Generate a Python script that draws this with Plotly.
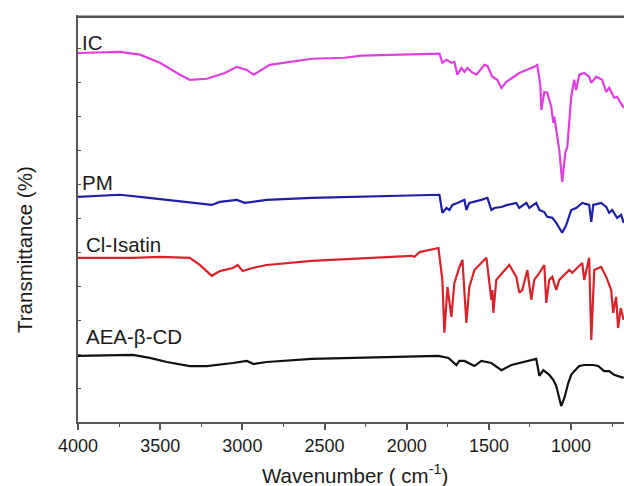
import plotly.graph_objects as go

# ---- Data (arbitrary offset transmittance units) ----
ic_wn = [4000, 3745, 3623, 3502, 3380, 3320, 3216, 3107, 3034, 2973, 2931, 2882, 2834, 2578, 2378, 2275,
         1922, 1801, 1783, 1758, 1728, 1710, 1692, 1667, 1649, 1631, 1606, 1576, 1527, 1509, 1479, 1449,
         1424, 1394, 1357, 1315, 1272, 1224, 1206, 1187, 1181, 1163, 1145, 1120, 1108, 1102, 1090, 1072,
         1054, 1035, 1023, 999, 981, 969, 950, 920, 890, 877, 847, 811, 786, 768, 738, 720, 680]
ic_t = [108.8, 109.1, 108.3, 105.9, 102.4, 100.9, 101.2, 102.9, 104.7, 103.8, 102.4, 103.8, 105.3, 107.1, 107.4, 108.0,
        108.6, 108.6, 105.9, 106.8, 105.9, 106.2, 102.4, 104.4, 103.2, 104.4, 103.2, 102.4, 105.3, 105.0, 101.8, 100.9,
        98.5, 100.3, 101.5, 102.9, 103.8, 104.7, 105.3, 99.4, 92.0, 97.3, 97.1, 92.9, 88.2, 90.0, 86.1, 80.2,
        70.8, 79.4, 81.1, 95.9, 100.9, 97.9, 102.4, 102.9, 101.8, 100.0, 101.8, 100.9, 97.3, 98.5, 95.6, 95.9, 92.6]

pm_wn = [4000, 3745, 3623, 3459, 3301, 3186, 3137, 3034, 2985, 2937, 2852, 2578, 1922, 1801, 1783, 1758,
         1740, 1722, 1692, 1649, 1637, 1619, 1546, 1509, 1485, 1467, 1424, 1388, 1333, 1315, 1272, 1254,
         1212, 1193, 1163, 1145, 1114, 1090, 1054, 1029, 999, 969, 932, 890, 877, 865, 817, 786, 768,
         750, 720, 695, 680]
pm_t = [66.4, 67.0, 66.4, 65.5, 64.6, 64.0, 64.9, 65.5, 64.6, 64.9, 65.5, 66.1, 67.0, 67.0, 61.7, 63.1,
        62.5, 64.0, 64.6, 65.5, 62.5, 64.6, 65.5, 66.1, 62.5, 63.1, 63.4, 64.0, 64.6, 63.1, 64.6, 63.1,
        64.6, 62.5, 61.9, 60.5, 60.2, 58.7, 55.8, 58.1, 62.5, 63.1, 64.6, 64.0, 59.0, 64.0, 64.6, 63.4, 61.7,
        62.5, 60.2, 61.1, 58.7]

cl_wn = [4000, 3666, 3502, 3320, 3259, 3186, 3137, 3058, 3028, 2998, 2937, 2852, 2578, 1971, 1953, 1922,
         1807, 1783, 1771, 1752, 1728, 1710, 1679, 1661, 1637, 1619, 1588, 1515, 1497, 1485, 1479, 1473,
         1455, 1376, 1333, 1315, 1297, 1266, 1242, 1224, 1193, 1163, 1151, 1133, 1114, 1090, 1072, 1011,
         993, 932, 920, 890, 877, 859, 817, 786, 756, 744, 726, 714, 698, 680]
cl_t = [48.4, 48.4, 48.7, 48.4, 46.3, 43.1, 44.5, 45.4, 46.3, 44.5, 45.4, 46.3, 47.5, 49.0, 48.7, 50.1,
        51.3, 41.9, 26.3, 39.8, 31.0, 41.0, 45.7, 47.8, 29.2, 39.8, 44.8, 48.4, 41.0, 36.0, 38.9, 32.2,
        41.9, 46.3, 42.8, 38.1, 38.9, 44.8, 36.0, 41.9, 44.0, 46.3, 35.1, 41.9, 42.8, 38.9, 41.9, 44.8,
        44.0, 46.9, 41.9, 48.4, 24.2, 44.8, 45.7, 42.8, 38.9, 32.2, 36.9, 27.7, 33.6, 30.1]

aea_wn = [4000, 3666, 3563, 3459, 3320, 3216, 3058, 2973, 2931, 2852, 2578, 1807, 1746, 1698, 1679, 1649,
          1588, 1546, 1485, 1424, 1363, 1284, 1212, 1193, 1169, 1133, 1108, 1090, 1060, 1041, 1017, 999,
          981, 950, 920, 865, 835, 799, 768, 738, 680]
aea_t = [19.5, 19.8, 18.9, 17.7, 16.5, 16.5, 17.4, 18.0, 17.1, 17.7, 18.6, 19.5, 18.9, 16.8, 18.0, 18.0,
         16.5, 18.0, 17.4, 15.3, 16.8, 17.7, 18.6, 13.6, 15.3, 13.9, 12.4, 10.6, 4.7, 7.1, 11.5, 13.9,
         15.0, 16.5, 16.8, 16.8, 16.5, 15.0, 15.0, 13.9, 13.0]

labels = ["IC", "PM", "Cl-Isatin", "AEA-β-CD"]
label_y = [112.0, 70.5, 52.2, 25.1]
label_x = [3985, 3985, 3962, 3962]
colors = ["#de3fde", "#1f1fa6", "#d8232b", "#111111"]

x_tickvals = [4000, 3500, 3000, 2500, 2000, 1500, 1000]
x_ticktext = ["4000", "3500", "3000", "2500", "2000", "1500", "1000"]

FONT = "Liberation Sans, Arial, sans-serif"

fig = go.Figure()
series = [(ic_wn, ic_t), (pm_wn, pm_t), (cl_wn, cl_t), (aea_wn, aea_t)]
for (wn, t), name, c in zip(series, labels, colors):
    fig.add_trace(go.Scatter(x=wn, y=t, mode="lines", name=name,
                             line=dict(color=c, width=2.2), showlegend=False))

for name, lx, ly in zip(labels, label_x, label_y):
    fig.add_annotation(x=lx, y=ly, xref="x", yref="y", text=name, showarrow=False,
                       xanchor="left", yanchor="middle",
                       font=dict(family=FONT, size=20.5, color="#1a1a1a"))

fig.add_annotation(x=-0.099, y=0.425, xref="paper", yref="paper", text="Transmittance (%)",
                   textangle=-90, showarrow=False, xanchor="center", yanchor="middle",
                   font=dict(family=FONT, size=20.5, color="#1a1a1a"))
fig.add_annotation(x=0.507, y=-0.128, xref="paper", yref="paper",
                   text="Wavenumber ( cm<sup>-1</sup>)", showarrow=False,
                   xanchor="center", yanchor="middle",
                   font=dict(family=FONT, size=20.5, color="#1a1a1a"))

# top frame line (explicit)
fig.add_shape(type="line", xref="paper", yref="paper", x0=-0.002, x1=1.0, y0=0.996, y1=0.996,
              layer="above", line=dict(color="#505050", width=2.5))

fig.update_layout(
    width=624, height=486,
    margin=dict(l=78, r=0, t=15, b=64),
    paper_bgcolor="white", plot_bgcolor="white",
    xaxis=dict(range=[4000, 678], tickvals=x_tickvals, ticktext=x_ticktext,
               showgrid=False, zeroline=False, showline=True, linecolor="#555555", linewidth=2,
               mirror=False, ticks="outside", ticklen=6, tickwidth=1.5, tickcolor="#555555",
               minor=dict(dtick=250, ticks="outside", ticklen=3, tickwidth=1.2, tickcolor="#555555"),
               tickfont=dict(family=FONT, size=18, color="#1a1a1a")),
    yaxis=dict(range=[0, 120], dtick=10, showticklabels=False,
               showgrid=False, zeroline=False, showline=True, linecolor="#555555", linewidth=2,
               ticks="inside", ticklen=3, tickwidth=1.2, tickcolor="#555555"),
)

fig.write_html("out.html", config={"displayModeBar": False},
               post_script="document.body.style.margin='0';document.body.style.overflow='hidden';")
